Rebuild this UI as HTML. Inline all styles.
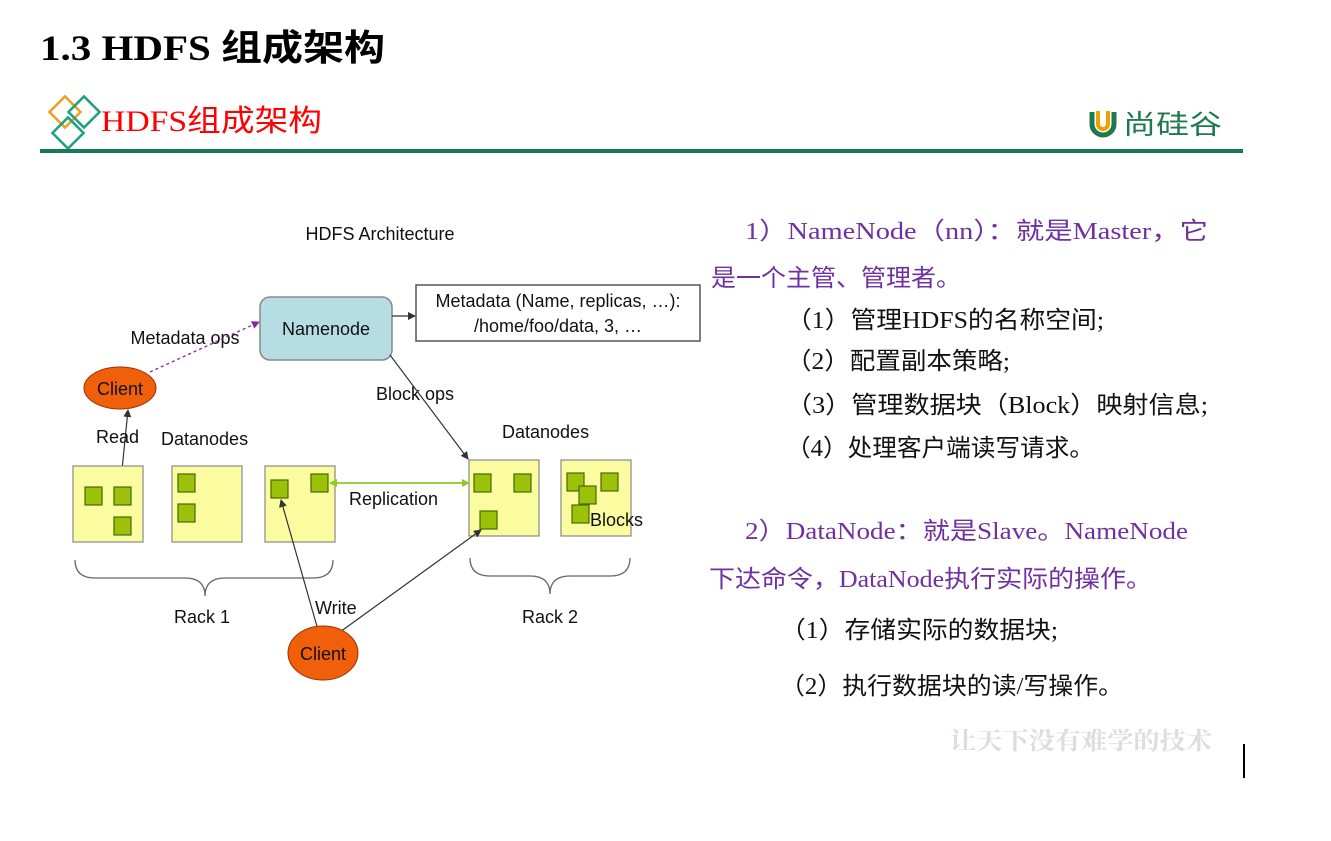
<!DOCTYPE html>
<html><head><meta charset="utf-8"><style>
html,body{margin:0;padding:0;background:#fff;}
svg{display:block;}
</style></head><body>
<svg width="1331" height="841" viewBox="0 0 1331 841" xmlns="http://www.w3.org/2000/svg">
<defs>
<marker id="ab" markerWidth="8" markerHeight="8" refX="7" refY="4" orient="auto" markerUnits="userSpaceOnUse"><path d="M0,0 L8,4 L0,8 z" fill="#333"/></marker>
<marker id="ap" markerWidth="8" markerHeight="8" refX="7" refY="4" orient="auto" markerUnits="userSpaceOnUse"><path d="M0,0 L8,4 L0,8 z" fill="#8a2a9a"/></marker>
<marker id="ag" markerWidth="8" markerHeight="8" refX="7" refY="4" orient="auto-start-reverse" markerUnits="userSpaceOnUse"><path d="M0,0 L8,4 L0,8 z" fill="#8ccc2a"/></marker>
</defs>
<!-- title -->
<text x="40" y="60" font-family="Liberation Serif, 'Noto Sans CJK SC', serif" font-weight="bold" font-size="36" textLength="345" lengthAdjust="spacingAndGlyphs">1.3 HDFS 组成架构</text>
<!-- diamonds -->
<rect x="54" y="101" width="22" height="22" transform="rotate(45 65 112)" fill="none" stroke="#f0a020" stroke-width="2.5"/>
<rect x="73" y="101" width="22" height="22" transform="rotate(45 84 112)" fill="none" stroke="#20a080" stroke-width="2.5"/>
<rect x="57" y="122" width="22" height="22" transform="rotate(45 68 133)" fill="none" stroke="#20a080" stroke-width="2.5"/>
<text x="101" y="131" font-family="Liberation Serif, 'Noto Sans CJK SC', serif" font-size="30" fill="#ff0000" textLength="221" lengthAdjust="spacingAndGlyphs">HDFS组成架构</text>
<rect x="40" y="149" width="1203" height="4" fill="#17795a"/>
<!-- logo -->
<path d="M1092,112 v12 a11,11 0 0 0 22,0 v-12" fill="none" stroke="#1e7a4e" stroke-width="5"/>
<path d="M1098,111 v13 a5,5 0 0 0 10,0 v-13" fill="none" stroke="#f0a000" stroke-width="4"/>
<text x="1123" y="134" font-family="'Noto Sans CJK SC', sans-serif" font-size="27" fill="#1e7a4e" textLength="99" lengthAdjust="spacingAndGlyphs">尚硅谷</text>
<!-- diagram -->
<g font-family="Liberation Sans, sans-serif" fill="#111">
<text x="380" y="240" font-size="18" text-anchor="middle">HDFS Architecture</text>
<rect x="260" y="297" width="132" height="63" rx="10" fill="#b7dde4" stroke="#888" stroke-width="1.5"/>
<text x="326" y="335" font-size="18" text-anchor="middle">Namenode</text>
<rect x="416" y="285" width="284" height="56" fill="#fff" stroke="#555" stroke-width="1.5"/>
<text x="558" y="307" font-size="18" text-anchor="middle">Metadata (Name, replicas, …):</text>
<text x="558" y="332" font-size="18" text-anchor="middle">/home/foo/data, 3, …</text>
<line x1="392" y1="316" x2="415" y2="316" stroke="#333" stroke-width="1.3" marker-end="url(#ab)"/>
<text x="185" y="344" font-size="18" text-anchor="middle">Metadata ops</text>
<line x1="150" y1="372" x2="259" y2="322" stroke="#8a2a9a" stroke-width="1.3" stroke-dasharray="3,3" marker-end="url(#ap)"/>
<ellipse cx="120" cy="388" rx="36" ry="21" fill="#f0600a" stroke="#a03000"/>
<text x="120" y="395" font-size="18" text-anchor="middle">Client</text>
<line x1="122" y1="470" x2="128" y2="410" stroke="#333" stroke-width="1.2" marker-end="url(#ab)"/>
<text x="96" y="443" font-size="18">Read</text>
<text x="161" y="445" font-size="18">Datanodes</text>
<text x="502" y="438" font-size="18">Datanodes</text>
<text x="376" y="400" font-size="18">Block ops</text>
<line x1="390" y1="355" x2="468" y2="459" stroke="#333" stroke-width="1.2" marker-end="url(#ab)"/>
<g fill="#fbfba0" stroke="#888" stroke-width="1.2">
<rect x="73" y="466" width="70" height="76"/>
<rect x="172" y="466" width="70" height="76"/>
<rect x="265" y="466" width="70" height="76"/>
<rect x="469" y="460" width="70" height="76"/>
<rect x="561" y="460" width="70" height="76"/>
</g>
<g fill="#9cc10a" stroke="#4a6a00" stroke-width="1.2">
<rect x="85" y="487" width="17" height="18"/><rect x="114" y="487" width="17" height="18"/><rect x="114" y="517" width="17" height="18"/>
<rect x="178" y="474" width="17" height="18"/><rect x="178" y="504" width="17" height="18"/>
<rect x="271" y="480" width="17" height="18"/><rect x="311" y="474" width="17" height="18"/>
<rect x="474" y="474" width="17" height="18"/><rect x="514" y="474" width="17" height="18"/><rect x="480" y="511" width="17" height="18"/>
<rect x="567" y="473" width="17" height="18"/><rect x="601" y="473" width="17" height="18"/><rect x="579" y="486" width="17" height="18"/><rect x="572" y="505" width="17" height="18"/>
</g>
<text x="590" y="526" font-size="18">Blocks</text>
<line x1="330" y1="483" x2="469" y2="483" stroke="#8ccc2a" stroke-width="1.8" marker-start="url(#ag)" marker-end="url(#ag)"/>
<text x="349" y="505" font-size="18">Replication</text>
<path d="M75,560 q0,18 20,18 h90 q20,0 20,18 q0,-18 20,-18 h88 q20,0 20,-18" fill="none" stroke="#666" stroke-width="1.3"/>
<path d="M470,558 q0,18 20,18 h40 q20,0 20,18 q0,-18 20,-18 h40 q20,0 20,-18" fill="none" stroke="#666" stroke-width="1.3"/>
<text x="202" y="623" font-size="18" text-anchor="middle">Rack 1</text>
<text x="550" y="623" font-size="18" text-anchor="middle">Rack 2</text>
<text x="315" y="614" font-size="18">Write</text>
<line x1="318" y1="630" x2="281" y2="500" stroke="#333" stroke-width="1.2" marker-end="url(#ab)"/>
<line x1="340" y1="632" x2="481" y2="530" stroke="#333" stroke-width="1.2" marker-end="url(#ab)"/>
<ellipse cx="323" cy="653" rx="35" ry="27" fill="#f0600a" stroke="#a03000"/>
<text x="323" y="660" font-size="18" text-anchor="middle">Client</text>
</g>
<!-- right text -->
<g font-family="Liberation Serif, 'Noto Sans CJK SC', serif" font-size="24">
<g fill="#7030a0">
<text x="745" y="239" textLength="463" lengthAdjust="spacingAndGlyphs">1）NameNode（nn）：就是Master，它</text>
<text x="711" y="286" textLength="250" lengthAdjust="spacingAndGlyphs">是一个主管、管理者。</text>
<text x="745" y="539" textLength="443" lengthAdjust="spacingAndGlyphs">2）DataNode：就是Slave。NameNode</text>
<text x="709" y="587" textLength="443" lengthAdjust="spacingAndGlyphs">下达命令，DataNode执行实际的操作。</text>
</g>
<g fill="#111">
<text x="786" y="328" textLength="318" lengthAdjust="spacingAndGlyphs">（1）管理HDFS的名称空间;</text>
<text x="786" y="369" textLength="224" lengthAdjust="spacingAndGlyphs">（2）配置副本策略;</text>
<text x="786" y="413" textLength="422" lengthAdjust="spacingAndGlyphs">（3）管理数据块（Block）映射信息;</text>
<text x="786" y="456" textLength="308" lengthAdjust="spacingAndGlyphs">（4）处理客户端读写请求。</text>
<text x="780" y="638" textLength="278" lengthAdjust="spacingAndGlyphs">（1）存储实际的数据块;</text>
<text x="780" y="694" textLength="343" lengthAdjust="spacingAndGlyphs">（2）执行数据块的读/写操作。</text>
</g>
</g>
<text x="950" y="749" font-family="'Noto Serif CJK SC', serif" font-size="24" fill="#ddd" font-weight="bold" textLength="262" lengthAdjust="spacingAndGlyphs">让天下没有难学的技术</text>
<rect x="1243" y="744" width="2" height="34" fill="#000"/>
</svg>
</body></html>
